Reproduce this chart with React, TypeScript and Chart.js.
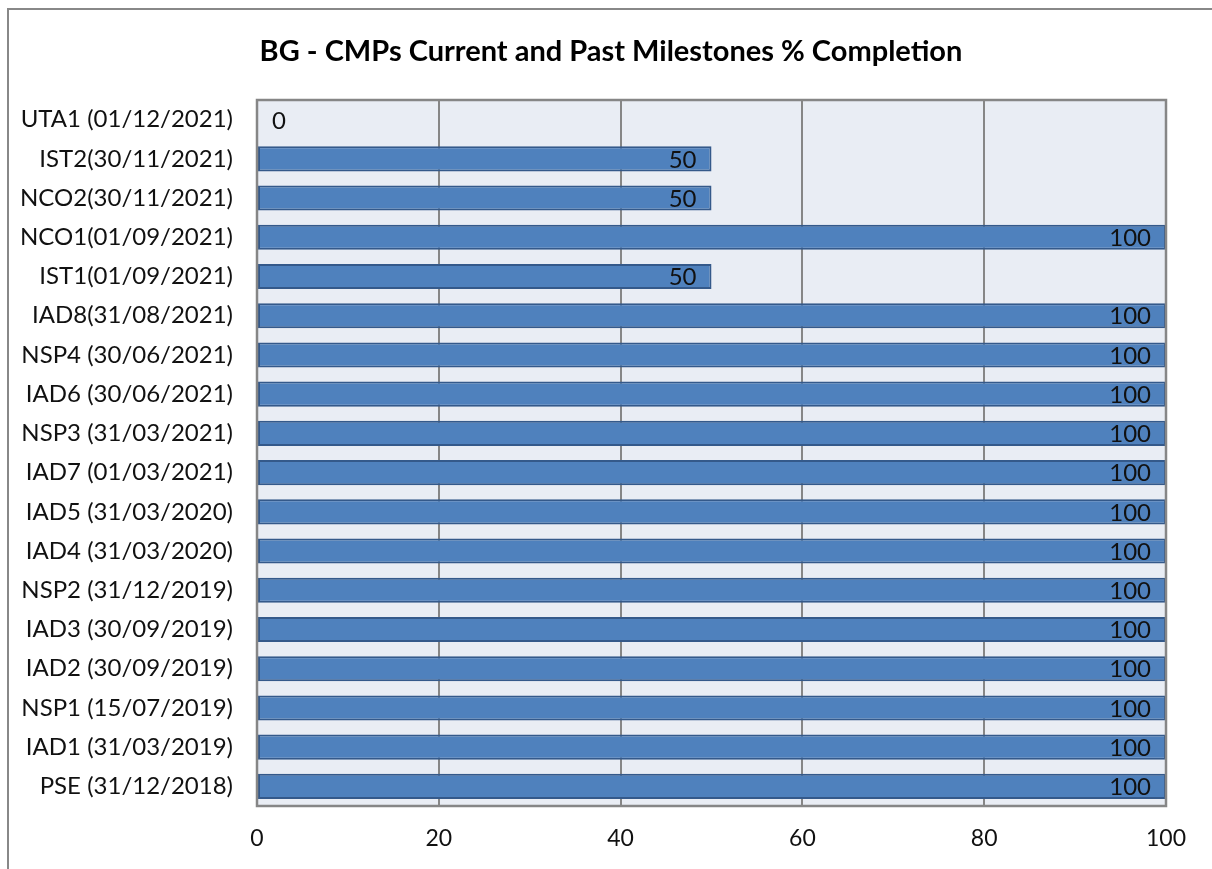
import React, { useEffect, useRef } from "react";
import { Chart, registerables } from "chart.js";
Chart.register(...registerables);

const titleText = "BG - CMPs Current and Past Milestones % Completion";
const categories = [
  "UTA1 (01/12/2021)",
  "IST2(30/11/2021)",
  "NCO2(30/11/2021)",
  "NCO1(01/09/2021)",
  "IST1(01/09/2021)",
  "IAD8(31/08/2021)",
  "NSP4 (30/06/2021)",
  "IAD6 (30/06/2021)",
  "NSP3 (31/03/2021)",
  "IAD7 (01/03/2021)",
  "IAD5 (31/03/2020)",
  "IAD4 (31/03/2020)",
  "NSP2 (31/12/2019)",
  "IAD3 (30/09/2019)",
  "IAD2 (30/09/2019)",
  "NSP1 (15/07/2019)",
  "IAD1 (31/03/2019)",
  "PSE (31/12/2018)",
];
const completion = [0, 50, 50, 100, 50, 100, 100, 100, 100, 100, 100, 100, 100, 100, 100, 100, 100, 100];
const xMin = 0;
const xMax = 100;
const xStep = 20;

const FONT = "Lato, 'Noto Sans', sans-serif";

const backgroundPlugin = {
  id: "bgFrame",
  beforeDraw(chart: any) {
    const { ctx, chartArea } = chart;
    ctx.save();
    ctx.fillStyle = "#ffffff";
    ctx.fillRect(0, 0, chart.width, chart.height);
    ctx.strokeStyle = "#888888";
    ctx.lineWidth = 2;
    ctx.beginPath();
    ctx.moveTo(8, chart.height + 10);
    ctx.lineTo(8, 9);
    ctx.lineTo(chart.width + 10, 9);
    ctx.stroke();
    ctx.fillStyle = "#E9EDF4";
    ctx.fillRect(chartArea.left, chartArea.top, chartArea.right - chartArea.left, chartArea.bottom - chartArea.top);
    // title
    ctx.fillStyle = "#000000";
    ctx.font = `bold 29px ${FONT}`;
    ctx.textAlign = "center";
    ctx.textBaseline = "middle";
    ctx.fillText(titleText, 611, 52);
    ctx.restore();
  },
  afterDraw(chart: any) {
    const { ctx, chartArea } = chart;
    ctx.save();
    ctx.strokeStyle = "#868686";
    ctx.lineWidth = 2.5;
    ctx.strokeRect(chartArea.left, chartArea.top, chartArea.right - chartArea.left, chartArea.bottom - chartArea.top);
    ctx.restore();
  },
};

const labelPlugin = {
  id: "valueLabels",
  afterDatasetsDraw(chart: any) {
    const { ctx } = chart;
    const meta = chart.getDatasetMeta(0);
    const data = chart.data.datasets[0].data as number[];
    ctx.save();
    ctx.font = `24px ${FONT}`;
    ctx.fillStyle = "#111111";
    ctx.textBaseline = "middle";
    meta.data.forEach((bar: any, i: number) => {
      const v = data[i];
      const txt = String(v);
      if (v === 0) {
        ctx.textAlign = "left";
        ctx.fillText(txt, bar.base + 15, bar.y + 2);
      } else {
        ctx.textAlign = "right";
        ctx.fillText(txt, bar.x - 15, bar.y + 1);
      }
    });
    ctx.restore();
  },
};

export default function App() {
  const ref = useRef<HTMLCanvasElement | null>(null);
  useEffect(() => {
    if (!ref.current) return;
    const chart = new Chart(ref.current, {
      type: "bar",
      data: {
        labels: categories,
        datasets: [
          {
            data: completion,
            backgroundColor: "#4F81BD",
            borderColor: "#34598A",
            borderWidth: 2,
            borderSkipped: false,
            barPercentage: 0.64,
            categoryPercentage: 1,
          },
        ],
      },
      options: {
        indexAxis: "y",
        animation: false,
        responsive: false,
        maintainAspectRatio: false,
        layout: { padding: { left: 0, right: 46, top: 100, bottom: 0 } },
        plugins: {
          legend: { display: false },
          tooltip: { enabled: false },
          title: { display: false },
        },
        scales: {
          x: {
            min: xMin,
            max: xMax,
            ticks: {
              stepSize: xStep,
              color: "#111111",
              font: { family: FONT, size: 23 },
              padding: 19,
            },
            grid: { color: "#868686", lineWidth: 2, drawTicks: false },
            border: { display: false },
            afterFit: (s: any) => {
              s.height = 63;
            },
          },
          y: {
            ticks: {
              color: "#111111",
              font: { family: FONT, size: 24 },
              padding: 24,
              autoSkip: false,
            },
            grid: { display: false, drawTicks: false },
            border: { display: false },
            afterFit: (s: any) => {
              s.width = 257;
            },
          },
        },
      },
      plugins: [backgroundPlugin, labelPlugin],
    });
    return () => chart.destroy();
  }, []);
  return (
    <div style={{ position: "fixed", left: 0, top: 0, width: 1212, height: 869 }}>
      <canvas ref={ref} width={1212} height={869} style={{ display: "block", width: 1212, height: 869 }} />
    </div>
  );
}
